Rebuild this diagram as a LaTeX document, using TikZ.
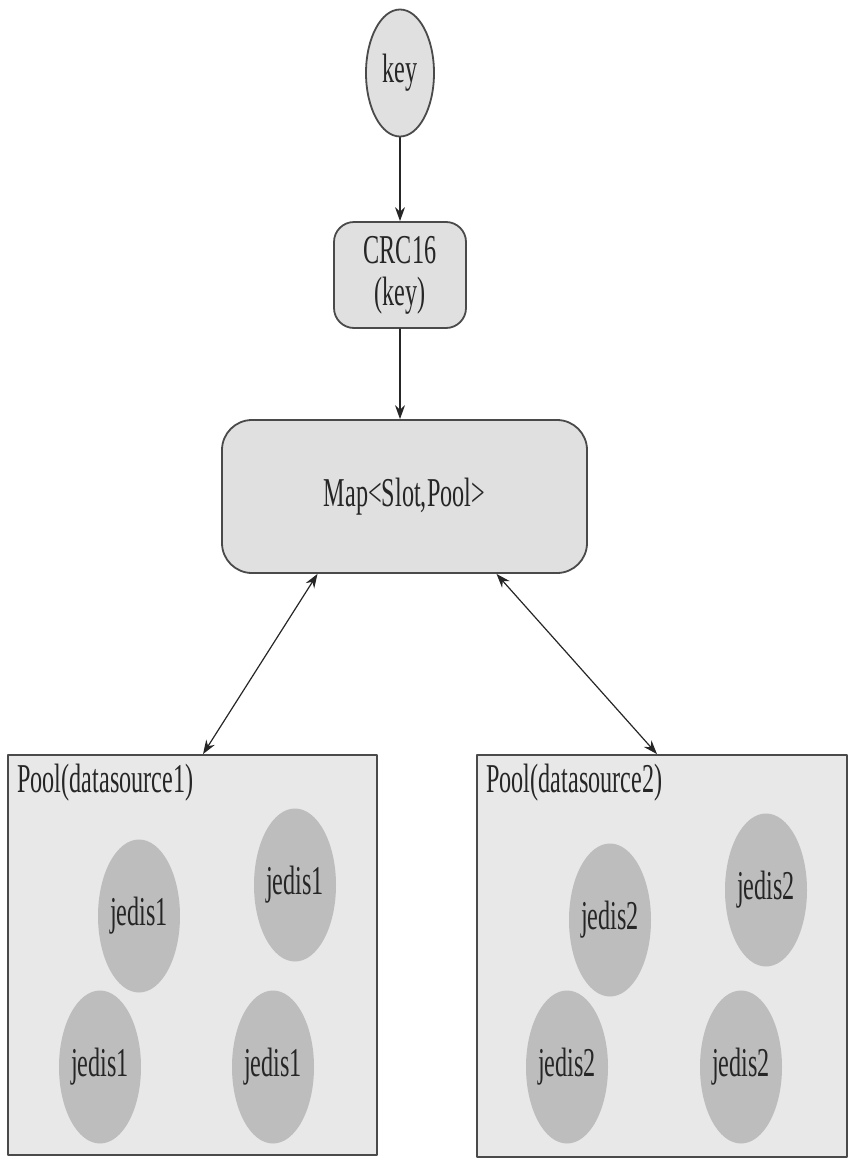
\documentclass[tikz,border=0pt]{standalone}
\usepackage{fontspec}
\setmainfont{Liberation Serif}[FakeStretch=0.59]
\usetikzlibrary{shapes.geometric,arrows.meta,positioning}
\definecolor{edgegray}{HTML}{4A4A4A}
\definecolor{boxgray}{HTML}{E0E0E0}
\definecolor{poolgray}{HTML}{E8E8E8}
\definecolor{jedisgray}{HTML}{BDBDBD}
\begin{document}
\begin{tikzpicture}[x=1pt,y=-1pt,line join=round,line cap=round,>={Stealth[length=14pt,width=10pt]},
  every node/.style={font=\fontsize{41}{42}\selectfont,text=black!85},
  keynode/.style={ellipse,draw=edgegray,line width=1.8pt,fill=boxgray,minimum width=68pt,minimum height=127pt,inner sep=0pt},
  roundbox/.style={rectangle,rounded corners=#1,draw=edgegray,line width=1.8pt,fill=boxgray,inner sep=0pt,align=center},
  poolbox/.style={rectangle,draw=edgegray,line width=1.8pt,fill=poolgray,inner sep=0pt},
  jedis/.style={ellipse,fill=jedisgray,minimum width=82pt,minimum height=153pt,inner sep=0pt},
  conn/.style={draw=black!85,line width=1.2pt}]
\useasboundingbox (0,0) rectangle (860,1162);
\node[keynode] (key) at (400,73) {key};
\node[roundbox=20pt,minimum width=132pt,minimum height=106pt] (crc) at (400,275) {CRC16\\(key)};
\node[roundbox=30pt,minimum width=365pt,minimum height=153pt] (map) at (404.5,496.5) {Map<Slot,Pool>};
\node[poolbox,minimum width=369pt,minimum height=400pt] (pool1) at (192.5,955) {};
\node[poolbox,minimum width=370pt,minimum height=402pt] (pool2) at (662,956) {};
\node[anchor=north west,inner sep=0pt] (lbl1) at ([xshift=10pt,yshift=-10pt]pool1.north west) {Pool(datasource1)};
\node[anchor=north west,inner sep=0pt] (lbl2) at ([xshift=10pt,yshift=-10pt]pool2.north west) {Pool(datasource2)};
\foreach \n/\x/\y in {a/139/916,b/295/885,c/100/1067,d/273/1067}
  \node[jedis] (j1\n) at (\x,\y) {jedis1};
\foreach \n/\x/\y in {a/610/920,b/766/890,c/567/1067,d/741/1067}
  \node[jedis] (j2\n) at (\x,\y) {jedis2};
\draw[conn,->] (key) -- (crc);
\draw[conn,->] (crc) -- (crc |- map.north);
\draw[conn,<->] ([xshift=-87pt]map.south) -- ([xshift=10.5pt]pool1.north);
\draw[conn,<->] ([xshift=92pt]map.south) -- ([xshift=-5pt]pool2.north);
\end{tikzpicture}
\end{document}
